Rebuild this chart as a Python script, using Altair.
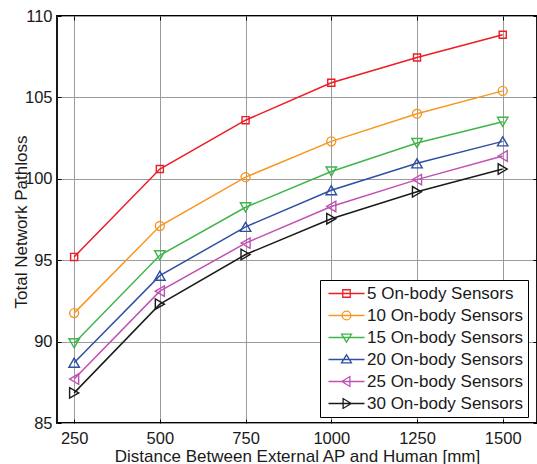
import altair as alt
import pandas as pd

# ---- data -------------------------------------------------------------
distance = [250, 500, 750, 1000, 1250, 1500]
series = [
    "5 On-body Sensors",
    "10 On-body Sensors",
    "15 On-body Sensors",
    "20 On-body Sensors",
    "25 On-body Sensors",
    "30 On-body Sensors",
]
pathloss_5 = [95.2, 100.6, 103.6, 105.9, 107.45, 108.85]
pathloss_10 = [91.75, 97.1, 100.1, 102.3, 104.0, 105.4]
pathloss_15 = [89.9, 95.3, 98.25, 100.45, 102.2, 103.5]
pathloss_20 = [88.7, 94.05, 97.05, 99.3, 100.95, 102.3]
pathloss_25 = [87.7, 93.1, 96.05, 98.3, 99.95, 101.4]
pathloss_30 = [86.85, 92.3, 95.35, 97.55, 99.2, 100.6]
y_ticks = [85, 90, 95, 100, 105, 110]

all_values = [pathloss_5, pathloss_10, pathloss_15, pathloss_20, pathloss_25, pathloss_30]
rows = []
for name, vals in zip(series, all_values):
    for d, v in zip(distance, vals):
        rows.append({"distance": d, "pathloss": v, "series": name})
df = pd.DataFrame(rows)

# ---- styling ----------------------------------------------------------
colors = ["#ee1d25", "#f8961e", "#3fb54a", "#2f4fa3", "#c050b3", "#1a1a1a"]
marker_shapes = ["square", "circle", "triangle-down", "triangle-up",
                 "triangle-left", "triangle-right"]
marker_sizes = [50, 80, 110, 110, 110, 110]

# legend glyphs: a line segment with the series marker drawn over it
legend_marks = [
    "M-0.5,-0.5L0.5,-0.5L0.5,0.5L-0.5,0.5Z",
    "M0.58,0A0.58,0.58 0 1,1 -0.58,0A0.58,0.58 0 1,1 0.58,0Z",
    "M-0.66,-0.45L0.66,-0.45L0,0.62Z",
    "M-0.66,0.45L0.66,0.45L0,-0.62Z",
    "M0.45,-0.66L0.45,0.66L-0.62,0Z",
    "M-0.45,-0.66L-0.45,0.66L0.62,0Z",
]
legend_paths = ["M-2.4,0L2.4,0" + m for m in legend_marks]

W, H = 480, 407
FONT = "Liberation Sans"
INK = "#1a1a1a"

x_scale = alt.Scale(domain=[200, 1600], nice=False, zero=False)
y_scale = alt.Scale(domain=[85, 110], nice=False, zero=False)

legend = alt.Legend(
    title=None, orient="none", legendX=263, legendY=264,
    padding=5, symbolOffset=13, labelOffset=12, rowPadding=4.0,
    labelFont=FONT, labelFontSize=17, labelColor=INK, labelLimit=400,
    symbolSize=225, symbolStrokeWidth=1.3, symbolOpacity=1,
    symbolFillColor="transparent",
    strokeColor="#000", fillColor="#ffffff", cornerRadius=0,
)
color = alt.Color("series:N", scale=alt.Scale(domain=series, range=colors), legend=legend)

x_axis = alt.Axis(
    values=distance, format="d", title="Distance Between External AP and Human [mm]",
    grid=True, gridColor="#9c9c9c", gridWidth=1, ticks=False, tickSize=0, domain=False,
    labelFont=FONT, labelFontSize=16.5, labelColor=INK, labelPadding=20.3,
    labelBaseline="alphabetic", labelFlush=False, labelOverlap=False,
    titleFont=FONT, titleFontSize=17, titleFontWeight="normal", titleColor=INK,
    titleX=240, titleY=38, titleBaseline="alphabetic",
)
y_axis = alt.Axis(
    values=y_ticks, format="d", title="Total Network Pathloss",
    grid=True, gridColor="#9c9c9c", gridWidth=1, ticks=False, tickSize=0, domain=False,
    labelFont=FONT, labelFontSize=16.5, labelColor=INK, labelPadding=5,
    labelBaseline="middle", labelFlush=False, labelOverlap=False,
    titleFont=FONT, titleFontSize=17, titleFontWeight="normal", titleColor=INK,
    titleX=-30.5, titleY=205.5, titleBaseline="alphabetic", titleAngle=270,
)

base = alt.Chart(df)
x_plain = alt.X("distance:Q", scale=x_scale, axis=None)
y_plain = alt.Y("pathloss:Q", scale=y_scale, axis=None)

lines = base.mark_line(strokeWidth=1.5).encode(
    x=alt.X("distance:Q", scale=x_scale, axis=x_axis),
    y=alt.Y("pathloss:Q", scale=y_scale, axis=y_axis),
    color=color,
    detail="series:N",
)

# open markers, one layer per series
marker_layers = [
    base.transform_filter(alt.datum.series == name)
    .mark_point(shape=shp, size=sz, filled=False, stroke=col, strokeWidth=1.4, opacity=1)
    .encode(x=x_plain, y=y_plain)
    for name, shp, sz, col in zip(series, marker_shapes, marker_sizes, colors)
]

# invisible layer that carries the legend glyphs (line + marker)
legend_layer = base.mark_point(opacity=0, filled=False).encode(
    x=x_plain,
    y=y_plain,
    color=color,
    shape=alt.Shape("series:N", scale=alt.Scale(domain=series, range=legend_paths), legend=legend),
)


def inner_ticks(orient, offset, values):
    return alt.Axis(orient=orient, offset=offset, values=values, labels=False, grid=False,
                    domain=False, ticks=True, tickSize=4, tickColor="#000", tickWidth=1,
                    title=None)


# short inward ticks on all four sides of the frame
ticks_a = base.mark_point(opacity=0).encode(
    x=alt.X("distance:Q", scale=x_scale, axis=inner_ticks("bottom", -H, distance)),
    y=alt.Y("pathloss:Q", scale=y_scale, axis=inner_ticks("left", -W, y_ticks)),
)
ticks_b = base.mark_point(opacity=0).encode(
    x=alt.X("distance:Q", scale=x_scale, axis=inner_ticks("top", -H, distance)),
    y=alt.Y("pathloss:Q", scale=y_scale, axis=inner_ticks("right", -W, y_ticks)),
)

chart = (
    alt.layer(lines, *marker_layers, ticks_a, ticks_b, legend_layer)
    .resolve_axis(x="independent", y="independent")
    .properties(
        width=W, height=H,
        padding={"left": 57, "top": 16, "right": 0, "bottom": 41},
        autosize=alt.AutoSizeParams(type="none"),
        background="#ffffff",
    )
    .configure_view(stroke="#000000", strokeWidth=1.8)
)

chart.save("out.html", embed_options={"renderer": "svg", "actions": False})
